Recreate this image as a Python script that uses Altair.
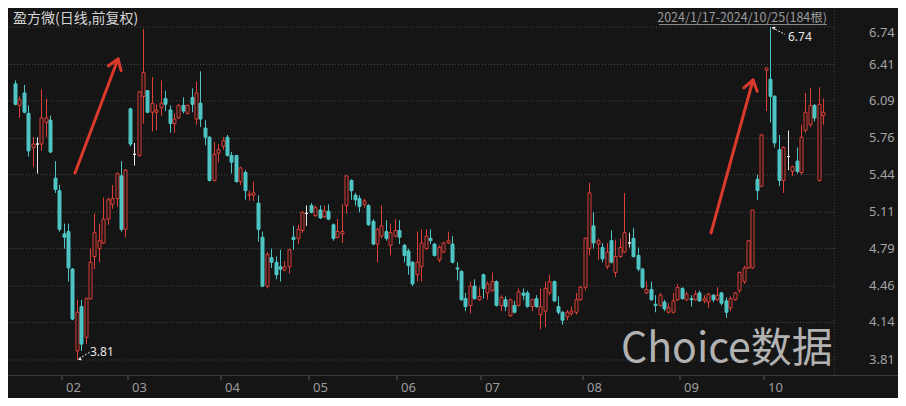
import altair as alt
import pandas as pd

# ---------------- data ----------------
opens = [6.24, 6.05, 6.16, 5.98, 5.68, 5.71, 5.71, 5.90, 5.92, 5.41,
         5.30, 4.92, 4.94, 4.61, 3.89, 4.28, 4.01, 4.35, 4.72, 4.79,
         4.84, 5.05, 5.18, 5.23, 5.43, 4.96, 6.02, 5.62, 5.61, 6.13,
         6.18, 5.99, 5.99, 6.03, 6.11, 6.01, 5.89, 5.94, 6.05, 5.98,
         6.12, 5.93, 6.07, 5.85, 5.77, 5.39, 5.63, 5.69, 5.77, 5.61,
         5.61, 5.38, 5.46, 5.26, 5.26, 5.19, 4.89, 4.46, 4.71, 4.67,
         4.63, 4.60, 4.63, 4.89, 4.88, 4.95, 5.10, 5.17, 5.08, 5.13,
         5.07, 5.12, 5.00, 4.89, 4.92, 5.17, 5.39, 5.26, 5.23, 5.18,
         5.17, 5.03, 4.83, 4.90, 4.94, 4.82, 4.90, 4.95, 4.82, 4.77,
         4.67, 4.56, 4.63, 4.79, 4.88, 4.83, 4.69, 4.76, 4.84, 4.83,
         4.62, 4.59, 4.35, 4.29, 4.46, 4.34, 4.56, 4.40, 4.42, 4.50,
         4.29, 4.34, 4.20, 4.29, 4.29, 4.40, 4.40, 4.28, 4.35, 4.21,
         4.24, 4.40, 4.50, 4.28, 4.23, 4.19, 4.22, 4.23, 4.34, 4.45,
         4.79, 4.99, 4.83, 4.80, 4.63, 4.86, 4.58, 4.72, 4.76, 4.84,
         4.88, 4.73, 4.61, 4.40, 4.43, 4.30, 4.29, 4.32, 4.23, 4.23,
         4.34, 4.44, 4.34, 4.35, 4.34, 4.40, 4.33, 4.32, 4.38, 4.34,
         4.40, 4.33, 4.27, 4.34, 4.42, 4.50, 4.62, 4.62, 5.40, 5.34,
         6.36, 6.28, 6.13, 5.66, 5.39, 5.60, 5.47, 5.56, 5.46, 5.83,
         5.88, 6.05, 5.39, 5.96]
highs = [6.27, 6.13, 6.23, 6.05, 5.77, 5.77, 6.19, 6.11, 5.96, 5.56,
         5.35, 5.01, 5.01, 4.62, 4.34, 4.34, 4.36, 4.79, 5.10, 5.01,
         5.24, 5.24, 5.35, 5.46, 5.56, 5.49, 6.03, 5.72, 6.17, 6.72,
         6.18, 6.30, 6.06, 6.27, 6.18, 6.05, 5.98, 6.06, 6.12, 6.06,
         6.20, 6.26, 6.35, 5.92, 5.78, 5.73, 5.71, 5.77, 5.79, 5.64,
         5.61, 5.51, 5.48, 5.30, 5.38, 5.26, 4.94, 4.76, 4.79, 4.72,
         4.78, 4.68, 4.79, 4.99, 5.00, 5.12, 5.17, 5.19, 5.17, 5.17,
         5.17, 5.18, 5.01, 5.05, 5.18, 5.43, 5.40, 5.28, 5.26, 5.23,
         5.18, 5.05, 4.97, 5.17, 5.04, 5.01, 5.05, 5.04, 4.83, 4.79,
         4.68, 4.94, 4.96, 4.96, 4.96, 4.84, 4.82, 4.85, 4.94, 4.90,
         4.67, 4.60, 4.40, 4.50, 4.52, 4.45, 4.57, 4.50, 4.58, 4.51,
         4.38, 4.37, 4.35, 4.33, 4.44, 4.44, 4.42, 4.35, 4.38, 4.44,
         4.50, 4.56, 4.51, 4.37, 4.24, 4.25, 4.28, 4.40, 4.46, 4.89,
         5.37, 5.11, 4.88, 4.84, 4.84, 4.95, 4.87, 4.88, 5.28, 4.93,
         4.97, 4.80, 4.62, 4.50, 4.50, 4.38, 4.40, 4.34, 4.31, 4.40,
         4.48, 4.45, 4.41, 4.38, 4.42, 4.42, 4.38, 4.40, 4.39, 4.45,
         4.41, 4.36, 4.37, 4.41, 4.59, 4.64, 4.86, 5.13, 5.44, 5.80,
         6.38, 6.74, 6.14, 5.79, 5.69, 5.83, 5.52, 5.68, 5.88, 6.16,
         6.20, 6.06, 6.21, 6.11]
lows = [6.05, 5.94, 5.98, 5.60, 5.51, 5.45, 5.65, 5.77, 5.63, 5.28,
        4.94, 4.79, 4.50, 4.16, 3.81, 3.89, 3.95, 4.34, 4.61, 4.67,
        4.83, 5.00, 5.14, 5.16, 4.94, 4.89, 5.69, 5.52, 5.60, 5.89,
        5.98, 5.82, 5.83, 5.96, 6.00, 5.81, 5.81, 5.93, 5.98, 5.97,
        5.99, 5.88, 5.86, 5.70, 5.38, 5.38, 5.55, 5.66, 5.60, 5.45,
        5.37, 5.35, 5.22, 5.21, 5.21, 4.85, 4.45, 4.44, 4.62, 4.52,
        4.50, 4.59, 4.57, 4.78, 4.83, 4.93, 4.99, 5.10, 5.07, 5.05,
        5.06, 5.04, 4.86, 4.88, 4.84, 5.10, 5.22, 5.17, 5.11, 5.15,
        4.99, 4.82, 4.67, 4.88, 4.86, 4.73, 4.89, 4.83, 4.67, 4.56,
        4.46, 4.50, 4.50, 4.78, 4.83, 4.72, 4.67, 4.75, 4.83, 4.66,
        4.51, 4.33, 4.24, 4.22, 4.34, 4.33, 4.35, 4.34, 4.41, 4.28,
        4.24, 4.24, 4.19, 4.22, 4.28, 4.34, 4.27, 4.24, 4.27, 4.08,
        4.10, 4.38, 4.32, 4.21, 4.12, 4.16, 4.20, 4.21, 4.33, 4.42,
        4.73, 4.79, 4.69, 4.67, 4.61, 4.66, 4.54, 4.71, 4.75, 4.80,
        4.71, 4.59, 4.44, 4.39, 4.33, 4.23, 4.28, 4.24, 4.22, 4.22,
        4.33, 4.34, 4.33, 4.28, 4.33, 4.32, 4.31, 4.27, 4.32, 4.33,
        4.29, 4.18, 4.24, 4.33, 4.40, 4.48, 4.61, 4.61, 5.22, 5.33,
        6.00, 5.90, 5.68, 5.34, 5.28, 5.48, 5.43, 5.45, 5.44, 5.81,
        5.86, 5.91, 5.38, 5.88]
closes = [6.06, 6.10, 5.99, 5.65, 5.71, 5.71, 5.94, 5.94, 5.64, 5.31,
          4.96, 4.89, 4.62, 4.17, 4.23, 3.95, 4.35, 4.67, 4.93, 4.86,
          5.05, 5.22, 5.23, 5.45, 4.96, 5.48, 5.71, 5.62, 6.17, 6.34,
          5.99, 6.07, 6.01, 6.07, 6.06, 5.89, 5.93, 6.05, 6.00, 6.05,
          6.06, 6.16, 5.93, 5.77, 5.39, 5.62, 5.66, 5.74, 5.61, 5.55,
          5.38, 5.50, 5.30, 5.27, 5.28, 4.96, 4.46, 4.74, 4.67, 4.56,
          4.61, 4.63, 4.78, 4.87, 4.96, 5.11, 5.10, 5.11, 5.15, 5.06,
          5.12, 5.05, 4.88, 4.94, 4.94, 5.43, 5.30, 5.22, 5.16, 5.21,
          5.00, 4.83, 4.96, 4.99, 4.88, 4.93, 4.95, 4.89, 4.73, 4.64,
          4.48, 4.67, 4.84, 4.90, 4.86, 4.73, 4.80, 4.84, 4.86, 4.67,
          4.61, 4.34, 4.28, 4.46, 4.35, 4.37, 4.44, 4.48, 4.50, 4.29,
          4.36, 4.28, 4.34, 4.23, 4.41, 4.38, 4.28, 4.34, 4.28, 4.28,
          4.44, 4.50, 4.33, 4.23, 4.16, 4.23, 4.24, 4.34, 4.45, 4.88,
          5.28, 4.84, 4.86, 4.70, 4.76, 4.67, 4.72, 4.80, 4.93, 4.84,
          4.72, 4.61, 4.45, 4.43, 4.34, 4.29, 4.38, 4.26, 4.27, 4.33,
          4.45, 4.35, 4.39, 4.34, 4.39, 4.33, 4.35, 4.39, 4.34, 4.38,
          4.31, 4.23, 4.35, 4.40, 4.58, 4.62, 4.86, 5.13, 5.30, 5.79,
          6.38, 6.13, 5.72, 5.39, 5.68, 5.60, 5.51, 5.47, 5.77, 5.99,
          6.05, 5.94, 6.06, 5.99]

month_labels = ["02", "03", "04", "05", "06", "07", "08", "09", "10"]
month_start_idx = [11, 26, 47, 67, 87, 106, 129, 151, 170]
y_ticks = [6.74, 6.41, 6.09, 5.76, 5.44, 5.11, 4.79, 4.46, 4.14, 3.81]

title_text = "盈方微(日线,前复权)"
range_text = "2024/1/17-2024/10/25(184根)"
watermark = "Choice数据"

# ---------------- styling ----------------
BG = "#151515"
RED = "#dc3f37"
CYAN = "#4ec4c4"
WHITE = "#e6e6e6"
NUMFONT = "Noto Sans"
CJK = "Noto Sans CJK SC"

n = len(opens)
df = pd.DataFrame({"i": list(range(n)), "o": opens, "h": highs, "l": lows, "c": closes})
df["dir"] = ["up" if c > o else ("down" if c < o else "flat") for o, c in zip(opens, closes)]

xs = alt.Scale(domain=[0, n - 1], range=[2, 820], nice=False, zero=False, round=True)
ys = alt.Scale(domain=[3.678, 6.9072], range=[367, 0], nice=False, zero=False)
dirs = ["up", "down", "flat"]
stroke_scale = alt.Scale(domain=dirs, range=[RED, CYAN, WHITE])
fill_scale = alt.Scale(domain=dirs, range=[BG, CYAN, WHITE])


def seg(x1, y1, x2, y2, color, width=1.0, dash=None, cap="butt"):
    kw = dict(color=color, strokeWidth=width, strokeCap=cap)
    if dash:
        kw["strokeDash"] = dash
    return alt.Chart(pd.DataFrame({"a": [0]})).mark_rule(**kw).encode(
        x=alt.value(x1), y=alt.value(y1), x2=alt.value(x2), y2=alt.value(y2))


def label(text, x, y, size, color, align="left", font=NUMFONT, baseline="middle", weight="normal"):
    return alt.Chart(pd.DataFrame({"t": [text]})).mark_text(
        align=align, baseline=baseline, fontSize=size, color=color, font=font,
        fontWeight=weight).encode(x=alt.value(x), y=alt.value(y), text="t:N")


# gridlines
grid = alt.Chart(pd.DataFrame({"v": y_ticks})).mark_rule(
    color="#474747", strokeDash=[1, 2], strokeWidth=1).encode(
    y=alt.Y("v:Q", scale=ys, axis=None), x=alt.value(0), x2=alt.value(826))

ylab_df = pd.DataFrame({"v": y_ticks})
ylab_top = alt.Chart(ylab_df.iloc[:1]).mark_text(
    align="left", baseline="top", fontSize=13, color="#a3a3a3", font=NUMFONT).encode(
    y=alt.Y("v:Q", scale=ys, axis=None), x=alt.value(861), text=alt.Text("v:Q", format=".2f"))
ylab_rest = alt.Chart(ylab_df.iloc[1:]).mark_text(
    align="left", baseline="middle", fontSize=13, color="#a3a3a3", font=NUMFONT).encode(
    y=alt.Y("v:Q", scale=ys, axis=None), x=alt.value(861), text=alt.Text("v:Q", format=".2f"))

sep = seg(826.5, 0, 826.5, 367, "#3a3a3a", 1, [1, 2])
base = seg(0, 367.5, 890, 367.5, "#3c3c3c", 1)

mdf = pd.DataFrame({"i": month_start_idx, "m": month_labels})
mticks = alt.Chart(mdf).transform_calculate(t="datum.i - 0.4").mark_rule(
    color="#5a5a5a", strokeWidth=1).encode(
    x=alt.X("t:Q", scale=xs, axis=None), y=alt.value(368), y2=alt.value(372))
mlabels = alt.Chart(mdf).transform_calculate(t="datum.i - 0.4").mark_text(
    align="left", baseline="middle", dx=4, fontSize=13, color="#9c9c9c", font=NUMFONT).encode(
    x=alt.X("t:Q", scale=xs, axis=None), y=alt.value(380), text="m:N")

wicks = alt.Chart(df).mark_rule(strokeWidth=1, xOffset=0.5).encode(
    x=alt.X("i:Q", scale=xs, axis=None),
    y=alt.Y("l:Q", scale=ys, axis=None), y2="h:Q",
    stroke=alt.Stroke("dir:N", scale=stroke_scale, legend=None))
bodies = alt.Chart(df).mark_bar(size=3, strokeWidth=1, xOffset=0.5).encode(
    x=alt.X("i:Q", scale=xs, axis=None),
    y=alt.Y("o:Q", scale=ys, axis=None), y2="c:Q",
    fill=alt.Fill("dir:N", scale=fill_scale, legend=None),
    stroke=alt.Stroke("dir:N", scale=stroke_scale, legend=None))

# min / max annotations derived from the data
lo_i = min(range(n), key=lambda k: lows[k])
hi_i = max(range(n), key=lambda k: highs[k])
lo_v, hi_v = lows[lo_i], highs[hi_i]
ann_df = pd.DataFrame({"i": [lo_i, hi_i], "v": [lo_v, hi_v], "t": [f"{lo_v:.2f}", f"{hi_v:.2f}"]})

lo_line = alt.Chart(pd.DataFrame({"a": [0]})).mark_rule(
    color=WHITE, strokeDash=[2, 1.5], strokeWidth=1).encode(
    x=alt.X("x1:Q", scale=xs, axis=None), x2="x2:Q",
    y=alt.Y("y1:Q", scale=ys, axis=None), y2="y2:Q").transform_calculate(
    x1=str(lo_i + 0.4), x2=str(lo_i + 2.9), y1=str(lo_v + 0.01), y2=str(lo_v + 0.07))
hi_line = alt.Chart(pd.DataFrame({"a": [0]})).mark_rule(
    color=WHITE, strokeDash=[2, 1.5], strokeWidth=1).encode(
    x=alt.X("x1:Q", scale=xs, axis=None), x2="x2:Q",
    y=alt.Y("y1:Q", scale=ys, axis=None), y2="y2:Q").transform_calculate(
    x1=str(hi_i + 0.5), x2=str(hi_i + 3.4), y1=str(hi_v - 0.005), y2=str(hi_v - 0.065))
lo_head = alt.Chart(ann_df.iloc[:1]).mark_point(
    shape="triangle", angle=243, size=14, filled=True, color=WHITE, opacity=1, xOffset=3, yOffset=-1).encode(
    x=alt.X("i:Q", scale=xs, axis=None), y=alt.Y("v:Q", scale=ys, axis=None))
hi_head = alt.Chart(ann_df.iloc[1:]).mark_point(
    shape="triangle", angle=297, size=14, filled=True, color=WHITE, opacity=1, xOffset=4, yOffset=1).encode(
    x=alt.X("i:Q", scale=xs, axis=None), y=alt.Y("v:Q", scale=ys, axis=None))
lo_text = alt.Chart(ann_df.iloc[:1]).mark_text(
    align="left", baseline="middle", dx=13, dy=-8, fontSize=12, color=WHITE, font=NUMFONT).encode(
    x=alt.X("i:Q", scale=xs, axis=None), y=alt.Y("v:Q", scale=ys, axis=None), text="t:N")
hi_text = alt.Chart(ann_df.iloc[1:]).mark_text(
    align="left", baseline="middle", dx=18, dy=10, fontSize=12, color=WHITE, font=NUMFONT).encode(
    x=alt.X("i:Q", scale=xs, axis=None), y=alt.Y("v:Q", scale=ys, axis=None), text="t:N")

# red hand-drawn arrows
AR = "#d93a2c"
arrow1 = [seg(67, 165, 110, 51, AR, 3, cap="round"),
          seg(110, 51, 100.2, 57.9, AR, 3, cap="round"),
          seg(110, 51, 113.1, 62.6, AR, 3, cap="round")]
arrow2 = [seg(703, 225, 745, 72, AR, 3, cap="round"),
          seg(745, 72, 735.8, 79.8, AR, 3, cap="round"),
          seg(745, 72, 749.2, 83.3, AR, 3, cap="round")]

title = label(title_text, 5, 15, 14, "#d6d6d6", font=CJK, baseline="alphabetic")
rng = label(range_text, 819, 14, 12.5, "#9a9a9a", align="right", font=CJK, baseline="alphabetic")
rng_ul = seg(651, 16.5, 819, 16.5, "#8c8c8c", 1)
wm = label(watermark, 613, 342, 41, "#b2b2b2", font=CJK)

chart = alt.layer(
    grid, sep, base, mticks, mlabels, ylab_top, ylab_rest,
    wicks, bodies,
    lo_line, hi_line, lo_head, hi_head, lo_text, hi_text,
    *arrow1, *arrow2,
    title, rng, rng_ul, wm,
).properties(
    width=890, height=390,
    autosize=alt.AutoSizeParams(type="none"),
    padding=0,
    background=BG,
).configure_view(stroke=None)

chart.save("out.html", embed_options={"renderer": "svg", "actions": False})
